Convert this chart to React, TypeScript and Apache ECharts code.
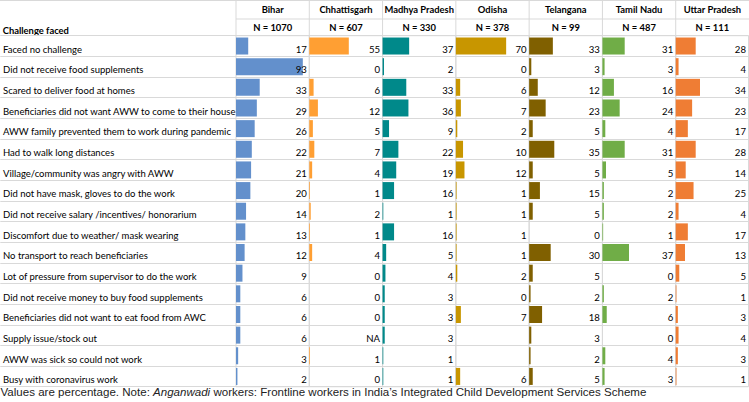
import React, { useEffect, useRef } from 'react';
import * as echarts from 'echarts';

const states = ['Bihar', 'Chhattisgarh', 'Madhya Pradesh', 'Odisha', 'Telangana', 'Tamil Nadu', 'Uttar Pradesh'];
const sampleSizes = ['N = 1070', 'N = 607', 'N = 330', 'N = 378', 'N = 99', 'N = 487', 'N = 111'];
const challenges = [
  'Faced no challenge',
  'Did not receive food supplements',
  'Scared to deliver food at homes',
  'Beneficiaries did not want AWW to come to their house',
  'AWW family prevented them to work during pandemic',
  'Had to walk long distances',
  'Village/community was angry with AWW',
  'Did not have mask, gloves to do the work',
  'Did not receive salary /incentives/ honorarium',
  'Discomfort due to weather/ mask wearing',
  'No transport to reach beneficiaries',
  'Lot of pressure from supervisor to do the work',
  'Did not receive money to buy food supplements',
  'Beneficiaries did not want to eat food from AWC',
  'Supply issue/stock out',
  'AWW was sick so could not work',
  'Busy with coronavirus work',
];
type Cell = number | string | null;
const bihar: Cell[] = [17, 93, 33, 29, 26, 22, 21, 20, 14, 13, 12, 9, 6, 6, 6, 3, 2];
const chhattisgarh: Cell[] = [55, 0, 6, 12, 5, 7, 4, 1, 2, 1, 4, 0, 0, 0, 'NA', 1, 0];
const madhyaPradesh: Cell[] = [37, 2, 33, 36, 9, 22, 19, 16, 1, 16, 5, 4, 3, 3, 3, 1, 1];
const odisha: Cell[] = [70, 0, 6, 7, 2, 10, 12, 1, 1, 1, 1, 2, 0, 7, null, null, 6];
const telangana: Cell[] = [33, 3, 12, 23, 5, 35, 5, 15, 5, 0, 30, 5, 2, 18, 3, 2, 5];
const tamilNadu: Cell[] = [31, 3, 16, 24, 4, 31, 5, 2, 2, 1, 37, 0, 2, 6, 0, 4, 3];
const uttarPradesh: Cell[] = [28, 4, 34, 23, 17, 28, 14, 25, 4, 17, 13, 5, 1, 3, 4, 3, 1];
const stateValues = [bihar, chhattisgarh, madhyaPradesh, odisha, telangana, tamilNadu, uttarPradesh];
const stateColors = ['#6390CC', '#FF9F33', '#00898A', '#C89600', '#806000', '#70AD47', '#EF7D34'];

const FONT = 'Lato';
const FS = 9.5;
const FS_VAL = 9.6;
const FS_HEAD = 9.4;
const LINE = '#d9d9d9';

export default function App() {
  const ref = useRef<HTMLDivElement>(null);
  useEffect(() => {
    const chart = echarts.init(ref.current!, null, { renderer: 'svg' });
    const W = 749;
    const tableLeft = 236;
    const colW = (W - tableLeft) / 7;
    const top = 35.7;
    const rowH = 20.65;
    const height = rowH * challenges.length;

    const grid: any[] = [{ left: 0, top, width: tableLeft, height, show: false }];
    const xAxis: any[] = [{ gridIndex: 0, type: 'value', show: false }];
    const yAxis: any[] = [
      {
        gridIndex: 0,
        type: 'category',
        data: challenges,
        inverse: true,
        axisLine: { show: false },
        axisTick: { show: false },
        splitLine: { show: true, lineStyle: { color: LINE, width: 1 } },
        axisLabel: {
          inside: true,
          margin: 2.7,
          fontFamily: FONT,
          fontSize: FS,
          color: '#000',
          verticalAlign: 'top',
          lineHeight: 6.5,
        },
      },
    ];
    const series: any[] = [];
    const graphic: any[] = [];

    states.forEach((st, i) => {
      const vals = stateValues[i];
      const gi = i + 1;
      grid.push({ left: tableLeft + i * colW, top, width: colW, height, show: true, borderColor: LINE, borderWidth: 1 });
      xAxis.push({ gridIndex: gi, type: 'value', min: 0, max: 102, show: false });
      const leftIdx = yAxis.length;
      yAxis.push({
        gridIndex: gi,
        type: 'category',
        data: challenges,
        inverse: true,
        axisLine: { show: false },
        axisTick: { show: false },
        axisLabel: { show: false },
        splitLine: { show: true, lineStyle: { color: LINE, width: 1 } },
      });
      yAxis.push({
        gridIndex: gi,
        type: 'category',
        position: 'right',
        data: challenges,
        inverse: true,
        z: 5,
        axisLine: { show: false },
        axisTick: { show: false },
        splitLine: { show: false },
        axisLabel: {
          inside: true,
          margin: 2.5,
          fontFamily: FONT,
          fontSize: FS_VAL,
          color: '#000',
          verticalAlign: 'top',
          lineHeight: 6.5,
          formatter: (_v: string, idx: number) => (vals[idx] === null ? '' : String(vals[idx])),
        },
      });
      series.push({
        type: 'bar',
        xAxisIndex: gi,
        yAxisIndex: leftIdx,
        data: vals.map((v) => (typeof v === 'number' ? v : '-')),
        barWidth: 17,
        itemStyle: { color: stateColors[i] },
        silent: true,
        z: 2,
      });
      const cx = tableLeft + (i + 0.5) * colW;
      graphic.push({
        type: 'text',
        x: cx,
        y: 9.5,
        style: { text: st, font: `bold ${FS_HEAD}px ${FONT}`, fill: '#000', textAlign: 'center', textVerticalAlign: 'middle' },
      });
      graphic.push({
        type: 'text',
        x: cx,
        y: 27,
        style: { text: sampleSizes[i], font: `bold ${FS_HEAD}px ${FONT}`, fill: '#000', textAlign: 'center', textVerticalAlign: 'middle' },
      });
      graphic.push({
        type: 'line',
        shape: { x1: tableLeft + i * colW, y1: 0, x2: tableLeft + i * colW, y2: top },
        style: { stroke: LINE, lineWidth: 1 },
      });
    });

    graphic.push({ type: 'line', shape: { x1: 0, y1: 0.5, x2: W, y2: 0.5 }, style: { stroke: LINE, lineWidth: 1 } });
    graphic.push({ type: 'line', shape: { x1: tableLeft, y1: 19, x2: W, y2: 19 }, style: { stroke: LINE, lineWidth: 1 } });
    graphic.push({
      type: 'text',
      x: 2.7,
      y: 30,
      style: { text: 'Challenge faced', font: `bold ${FS_HEAD}px ${FONT}`, fill: '#000', textAlign: 'left', textVerticalAlign: 'middle' },
    });
    graphic.push({
      type: 'text',
      x: 0.5,
      y: 392,
      style: {
        text: '{a|Values are percentage. Note: }{i|Anganwadi}{a| workers: Frontline workers in India\u2019s Integrated Child Development Services Scheme}',
        textAlign: 'left',
        textVerticalAlign: 'middle',
        fill: '#222',
        rich: {
          a: { fontFamily: 'Liberation Sans', fontSize: 11.55, fill: '#222', color: '#222' },
          i: { fontFamily: 'Liberation Sans', fontSize: 11.55, fontStyle: 'italic', fill: '#222', color: '#222' },
        },
      },
    });

    chart.setOption({
      animation: false,
      backgroundColor: '#fff',
      grid,
      xAxis,
      yAxis,
      series,
      graphic,
    });
    return () => chart.dispose();
  }, []);
  return <div ref={ref} style={{ position: 'absolute', left: 0, top: 0, width: 749, height: 402 }} />;
}
